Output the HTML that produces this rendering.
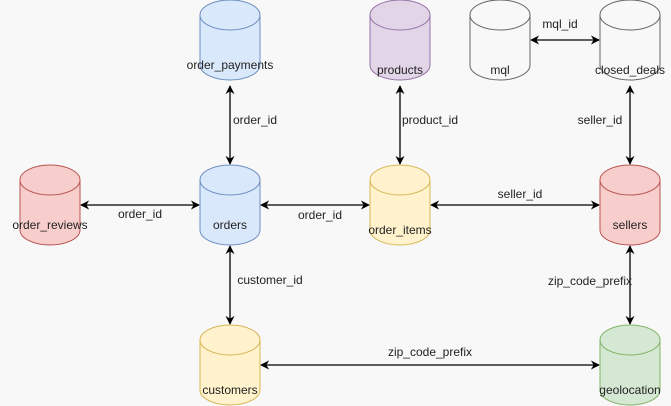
<!DOCTYPE html>
<html><head><style>body{margin:0;background:#f8f8f8}svg{display:block}text{font-family:"Liberation Sans",sans-serif;font-size:12px;fill:#222}</style></head><body>
<svg width="671" height="406" viewBox="0 0 671 406" xmlns="http://www.w3.org/2000/svg">
<defs><marker id="a" viewBox="0 0 10 10" refX="9" refY="5" markerWidth="9" markerHeight="9" orient="auto-start-reverse" markerUnits="userSpaceOnUse"><path d="M0,0 L10,5 L0,10 L3,5 Z" fill="#000"/></marker></defs>
<g stroke="#000" stroke-width="1.3" marker-start="url(#a)" marker-end="url(#a)">
<line x1="81" y1="205" x2="199" y2="205"/>
<line x1="261" y1="205" x2="369" y2="205"/>
<line x1="431" y1="205" x2="599" y2="205"/>
<line x1="531" y1="40" x2="599" y2="40"/>
<line x1="230" y1="86" x2="230" y2="164"/>
<line x1="400" y1="86" x2="400" y2="164"/>
<line x1="630" y1="86" x2="630" y2="164"/>
<line x1="630" y1="246" x2="630" y2="324"/>
<line x1="230" y1="246" x2="230" y2="324"/>
<line x1="261" y1="365" x2="599" y2="365"/>
</g>
<g id="cyl">
<g stroke-width="1">
<!-- order_payments -->
<path d="M200,15 a30,15 0 0 1 60,0 v50 a30,15 0 0 1 -60,0 z" fill="#dae8fc" stroke="#6c8ebf"/><path d="M200,15 a30,15 0 0 0 60,0" fill="none" stroke="#6c8ebf"/>
<path d="M370,15 a30,15 0 0 1 60,0 v50 a30,15 0 0 1 -60,0 z" fill="#e1d5e7" stroke="#9673a6"/><path d="M370,15 a30,15 0 0 0 60,0" fill="none" stroke="#9673a6"/>
<path d="M470,15 a30,15 0 0 1 60,0 v50 a30,15 0 0 1 -60,0 z" fill="#f8f8f8" stroke="#666"/><path d="M470,15 a30,15 0 0 0 60,0" fill="none" stroke="#666"/>
<path d="M600,15 a30,15 0 0 1 60,0 v50 a30,15 0 0 1 -60,0 z" fill="#f8f8f8" stroke="#666"/><path d="M600,15 a30,15 0 0 0 60,0" fill="none" stroke="#666"/>
<path d="M20,180 a30,15 0 0 1 60,0 v50 a30,15 0 0 1 -60,0 z" fill="#f8cecc" stroke="#b85450"/><path d="M20,180 a30,15 0 0 0 60,0" fill="none" stroke="#b85450"/>
<path d="M200,180 a30,15 0 0 1 60,0 v50 a30,15 0 0 1 -60,0 z" fill="#dae8fc" stroke="#6c8ebf"/><path d="M200,180 a30,15 0 0 0 60,0" fill="none" stroke="#6c8ebf"/>
<path d="M370,180 a30,15 0 0 1 60,0 v50 a30,15 0 0 1 -60,0 z" fill="#fff2cc" stroke="#d6b656"/><path d="M370,180 a30,15 0 0 0 60,0" fill="none" stroke="#d6b656"/>
<path d="M600,180 a30,15 0 0 1 60,0 v50 a30,15 0 0 1 -60,0 z" fill="#f8cecc" stroke="#b85450"/><path d="M600,180 a30,15 0 0 0 60,0" fill="none" stroke="#b85450"/>
<path d="M200,340 a30,15 0 0 1 60,0 v50 a30,15 0 0 1 -60,0 z" fill="#fff2cc" stroke="#d6b656"/><path d="M200,340 a30,15 0 0 0 60,0" fill="none" stroke="#d6b656"/>
<path d="M600,340 a30,15 0 0 1 60,0 v50 a30,15 0 0 1 -60,0 z" fill="#d5e8d4" stroke="#82b366"/><path d="M600,340 a30,15 0 0 0 60,0" fill="none" stroke="#82b366"/>
</g></g>
<g text-anchor="middle">
<text x="230" y="69">order_payments</text>
<text x="400" y="74">products</text>
<text x="500" y="74">mql</text>
<text x="630" y="74">closed_deals</text>
<text x="50" y="229">order_reviews</text>
<text x="230" y="229">orders</text>
<text x="400" y="234">order_items</text>
<text x="630" y="229">sellers</text>
<text x="230" y="394">customers</text>
<text x="630" y="394">geolocation</text>
<text x="140" y="218">order_id</text>
<text x="320" y="219">order_id</text>
<text x="520" y="198">seller_id</text>
<text x="560" y="28">mql_id</text>
<text x="255" y="124">order_id</text>
<text x="430" y="124">product_id</text>
<text x="600" y="124">seller_id</text>
<text x="270" y="284">customer_id</text>
<text x="590" y="285">zip_code_prefix</text>
<text x="430" y="356">zip_code_prefix</text>
</g>
</svg>
</body></html>
